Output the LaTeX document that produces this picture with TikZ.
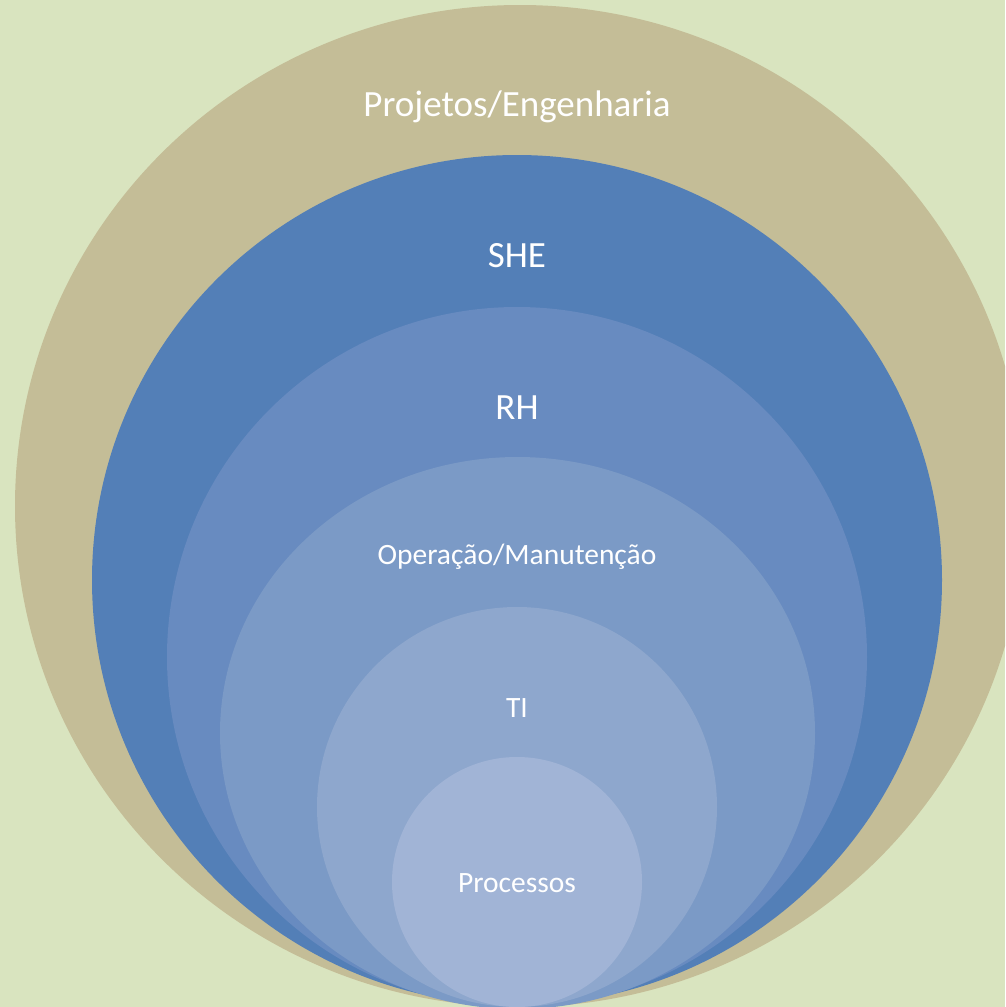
\documentclass[tikz,border=0pt]{standalone}
\usepackage{fontspec}
\setmainfont{Carlito}
\usetikzlibrary{shapes.geometric}
\definecolor{bgc}{HTML}{D9E4BF}
\definecolor{tanc}{HTML}{C4BD97}
\definecolor{c1}{HTML}{537FB7}
\definecolor{c2}{HTML}{688BC0}
\definecolor{c3}{HTML}{7B9AC6}
\definecolor{c4}{HTML}{8EA7CD}
\definecolor{c5}{HTML}{A1B4D6}
\tikzset{
  ring/.style={ellipse, inner sep=0pt, draw=none},
  bigtxt/.style={text=white, font=\fontsize{37}{41}\selectfont, inner sep=0pt},
  smalltxt/.style={text=white, font=\fontsize{29.5}{33}\selectfont, inner sep=0pt}
}
\begin{document}
\begin{tikzpicture}[x=1pt,y=-1pt]
\useasboundingbox (0,0) rectangle (1005,1007);
\clip (0,0) rectangle (1005,1007);
\fill[bgc] (0,0) rectangle (1005,1007);
\node[ring, fill=tanc, minimum width=1010pt, minimum height=1002pt] (outer) at (520,506) {};
\node[ring, fill=c1, minimum width=850pt, minimum height=850pt] (she) at (517,580) {};
\node[ring, fill=c2, minimum width=700pt, minimum height=700pt] (rh) at (517,657) {};
\node[ring, fill=c3, minimum width=595pt, minimum height=552pt] (op) at (517.5,733) {};
\node[ring, fill=c4, minimum width=400pt, minimum height=400pt] (ti) at (517,807) {};
\node[ring, fill=c5, minimum width=250pt, minimum height=250pt] (proc) at (517,882) {};
\node[bigtxt] (tout) at (517,107) {Projetos/Engenharia};
\node[bigtxt] (tshe) at (517,256) {SHE};
\node[bigtxt] (trh) at (517,408) {RH};
\node[smalltxt] (top) at (517,557) {Operação/Manutenção};
\node[smalltxt] (tti) at (517,708) {TI};
\node[smalltxt] (tproc) at (517,883) {Processos};
\end{tikzpicture}
\end{document}
